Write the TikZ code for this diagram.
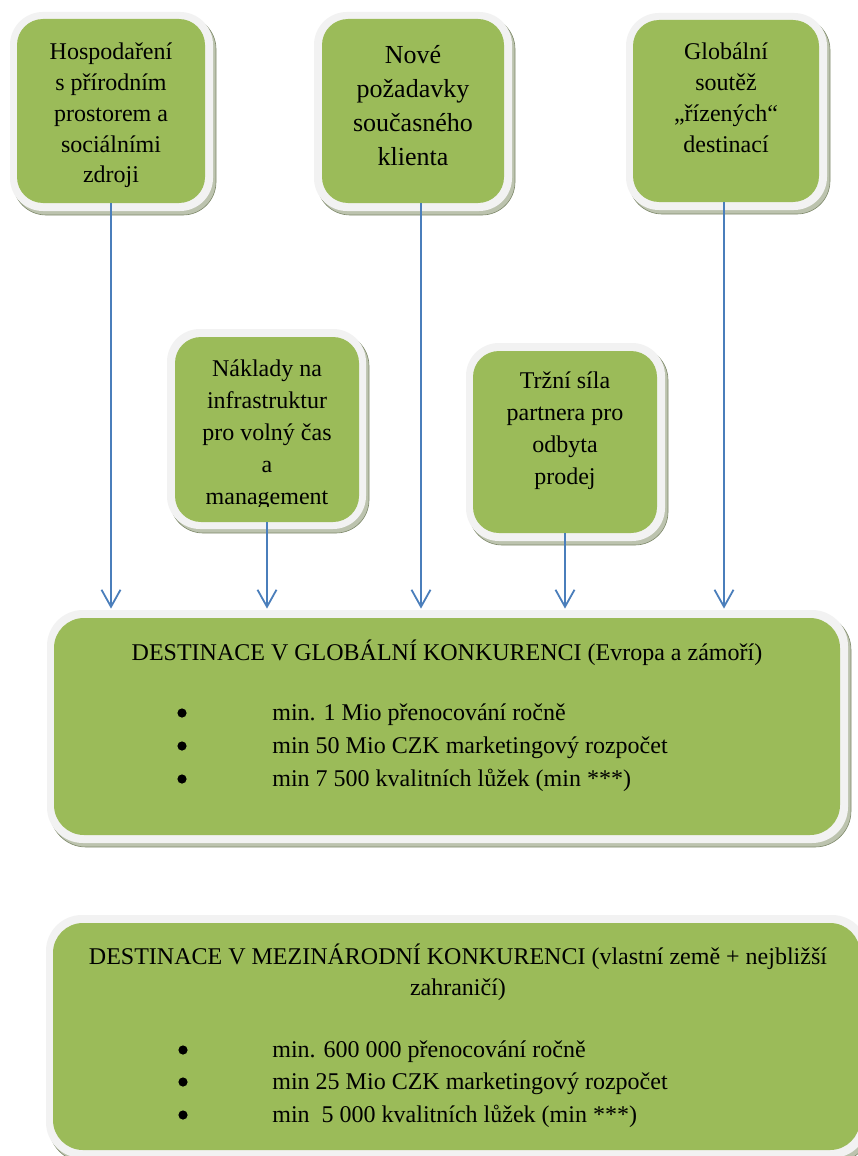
\documentclass[tikz,border=0pt]{standalone}
\usepackage{fontspec}
\setmainfont{Liberation Serif}
\usetikzlibrary{arrows.meta}
\definecolor{gfill}{HTML}{9BBB59}
\definecolor{gborder}{HTML}{F2F2F2}
\definecolor{gshadow}{HTML}{BCC3AE}
\definecolor{gshadowline}{HTML}{7F8A6C}
\definecolor{arr}{HTML}{4A7EBB}
\begin{document}
\begin{tikzpicture}[x=0.5pt,y=-0.5pt,
  gbox/.style={draw=none, fill=gfill, rectangle, inner sep=0pt},
  shadowbox/.style={fill=gshadow, draw=gshadowline, line width=0.3pt},
  borderbox/.style={fill=gborder},
  txt/.style={font=\fontsize{12}{15.5}\selectfont, align=center, inner sep=0pt, anchor=base},
  arrowline/.style={draw=arr, line width=0.9pt, -{Straight Barb[length=8.5pt,width=9.5pt]}},
  bul/.style={circle, fill=black, inner sep=0pt, minimum size=4.6pt},
  item/.style={font=\fontsize{12}{14}\selectfont, inner sep=0pt, anchor=base west}
]
\useasboundingbox (0,0) rectangle (857,1156);
\fill[white] (0,0) rectangle (857,1156);

% ---- top boxes
\path[shadowbox, rounded corners=16.5pt] (13,16) rectangle (216,215);
\path[borderbox, rounded corners=16.5pt] (10,12) rectangle (213,211);
\node[gbox, rounded corners=13pt, minimum width=94pt, minimum height=92pt] (b1) at (111,111) {};

\path[shadowbox, rounded corners=16.5pt] (317,16) rectangle (515,215);
\path[borderbox, rounded corners=16.5pt] (314,12) rectangle (512,211);
\node[gbox, rounded corners=13pt, minimum width=91pt, minimum height=92pt] (b2) at (413,111) {};

\path[shadowbox, rounded corners=16.5pt] (629,17) rectangle (830,214);
\path[borderbox, rounded corners=16.5pt] (626,13) rectangle (827,210);
\node[gbox, rounded corners=13pt, minimum width=93pt, minimum height=91pt] (b3) at (726,111) {};

% ---- middle boxes
\path[shadowbox, rounded corners=16.5pt] (170,333) rectangle (369,533);
\path[borderbox, rounded corners=16.5pt] (167,329) rectangle (366,529);
\node[gbox, rounded corners=13pt, minimum width=92pt, minimum height=92.5pt] (b4) at (267,429.5) {};

\path[shadowbox, rounded corners=16.5pt] (469,347) rectangle (668,545);
\path[borderbox, rounded corners=16.5pt] (466,343) rectangle (665,541);
\node[gbox, rounded corners=13pt, minimum width=92pt, minimum height=91pt] (b5) at (565,442) {};

% ---- big boxes
\path[shadowbox, rounded corners=18pt] (50,614) rectangle (851,847);
\path[borderbox, rounded corners=18pt] (47,610) rectangle (848,843);
\node[gbox, rounded corners=15pt, minimum width=393pt, minimum height=108.5pt] (big1) at (447,726.5) {};

\path[shadowbox, rounded corners=18pt] (49,919) rectangle (871,1162);
\path[borderbox, rounded corners=18pt] (46,915) rectangle (868,1158);
\node[gbox, rounded corners=15pt, minimum width=403.5pt, minimum height=113.5pt] (big2) at (456.5,1036.5) {};

% ---- texts of top and middle boxes (anchor = baseline of last line)
\node[txt, font=\fontsize{12}{15.5}\selectfont] (tx1) at (111,183) {Hospodaření\\s přírodním\\prostorem a\\sociálními\\zdroji};
\node[txt, font=\fontsize{13}{17}\selectfont] (tx2) at (413,165) {Nové\\požadavky\\současného\\klienta};
\node[txt, font=\fontsize{12}{15.6}\selectfont] (tx3) at (726,153) {Globální\\soutěž\\„řízených“\\destinací};
\begin{scope}
  \clip (175,337) rectangle (359,506);
  \node[txt, font=\fontsize{12}{16}\selectfont] (tx4) at (267,504) {Náklady na\\infrastruktur\\pro volný čas\\a\\management};
\end{scope}
\node[txt, font=\fontsize{12}{16}\selectfont] (tx5) at (565,484) {Tržní síla\\partnera pro\\odbyta\\prodej};

% ---- big box 1 texts
\node[txt] (h1) at (447,660) {DESTINACE V GLOBÁLNÍ KONKURENCI (Evropa a zámoří)};
\node[bul] (d11) at (182,713) {};
\node[bul] (d12) at (182,746) {};
\node[bul] (d13) at (182,779) {};
\node[item] (i11) at (272,720) {min. 1 Mio přenocování ročně};
\node[item] (i12) at (272,753) {min 50 Mio CZK marketingový rozpočet};
\node[item] (i13) at (272,786) {min 7 500 kvalitních lůžek (min ***)};

% ---- big box 2 texts
\node[txt] (h2) at (458,995) {DESTINACE V MEZINÁRODNÍ KONKURENCI (vlastní země + nejbližší\\zahraničí)};
\node[bul] (d21) at (183,1050) {};
\node[bul] (d22) at (183,1082) {};
\node[bul] (d23) at (183,1115) {};
\node[item] (i21) at (272,1057) {min. 600 000 přenocování ročně};
\node[item] (i22) at (272,1089) {min 25 Mio CZK marketingový rozpočet};
\node[item] (i23) at (272,1122) {min\ \ 5 000 kvalitních lůžek (min ***)};

% ---- arrows
\coordinate (top1) at ([yshift=4.5pt]big1.north);
\draw[arrowline] (b1.south) -- (b1.south |- top1);
\draw[arrowline] ([xshift=4pt]b2.south) -- ([xshift=4pt]b2.south |- top1);
\draw[arrowline] ([xshift=-1pt]b3.south) -- ([xshift=-1pt]b3.south |- top1);
\draw[arrowline] (b4.south) -- (b4.south |- top1);
\draw[arrowline] (b5.south) -- (b5.south |- top1);
\end{tikzpicture}
\end{document}
